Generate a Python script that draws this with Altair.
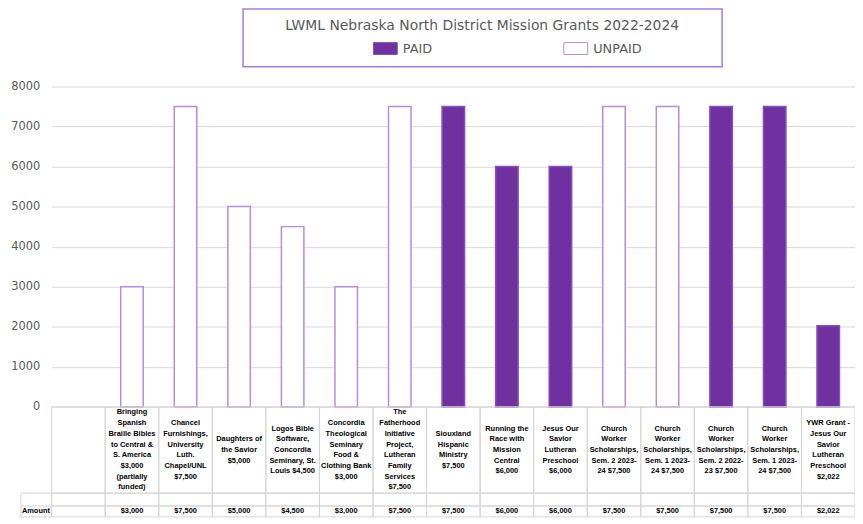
import altair as alt
import pandas as pd

labels = [
    "Bringing|Spanish|Braille Bibles|to Central &|S. America|$3,000|(partially|funded)",
    "Chancel|Furnishings,|University|Luth.|Chapel/UNL|$7,500",
    "Daughters of|the Savior|$5,000",
    "Logos Bible|Software,|Concordia|Seminary, St.|Louis $4,500",
    "Concordia|Theological|Seminary|Food &|Clothing Bank|$3,000",
    "The|Fatherhood|Initiative|Project,|Lutheran|Family|Services|$7,500",
    "Siouxland|Hispanic|Ministry|$7,500",
    "Running the|Race with|Mission|Central|$6,000",
    "Jesus Our|Savior|Lutheran|Preschool|$6,000",
    "Church|Worker|Scholarships,|Sem. 2 2023-|24 $7,500",
    "Church|Worker|Scholarships,|Sem. 1 2023-|24 $7,500",
    "Church|Worker|Scholarships,|Sem. 2 2022-|23 $7,500",
    "Church|Worker|Scholarships,|Sem. 1 2023-|24 $7,500",
    "YWR Grant -|Jesus Our|Savior|Lutheran|Preschool|$2,022",
]
amounts = [3000, 7500, 5000, 4500, 3000, 7500, 7500, 6000, 6000, 7500, 7500, 7500, 7500, 2022]
status = ["UNPAID", "UNPAID", "UNPAID", "UNPAID", "UNPAID", "UNPAID",
          "PAID", "PAID", "PAID", "UNPAID", "UNPAID", "PAID", "PAID", "PAID"]
amount_text = ["$3,000", "$7,500", "$5,000", "$4,500", "$3,000", "$7,500", "$7,500",
               "$6,000", "$6,000", "$7,500", "$7,500", "$7,500", "$7,500", "$2,022"]
y_ticks = [0, 1000, 2000, 3000, 4000, 5000, 6000, 7000, 8000]
title_text = "LWML Nebraska North District Mission Grants 2022-2024"

LH = 10.8
ids = [f"c{i}" for i in range(len(labels) + 1)]  # first column is blank
df = pd.DataFrame({"id": ids[1:], "label": labels, "amount": amounts,
                   "status": status, "amt": amount_text})
df["dy"] = [-(lab.count("|")) * LH / 2 for lab in labels]
grid = pd.DataFrame({"id": ids})

H = 323
ROW1 = 410
ROW2 = 423
ROW3 = 434
GRID = "#d4d4d4"
TXT_FONT = "Liberation Sans"

xenc = alt.X("id:N", scale=alt.Scale(domain=ids, paddingInner=0, paddingOuter=0), axis=None)
pad = "\u00a0" * 17 + "\u200b"

bars = alt.Chart(df).mark_bar(width=alt.RelativeBandSize(0.42), strokeWidth=1.5).encode(
    x=xenc,
    y=alt.Y("amount:Q", scale=alt.Scale(domain=[0, 8000], nice=False),
            axis=alt.Axis(values=y_ticks, format="d", grid=True, gridColor="#d9d9d9", domain=False,
                          ticks=False, labelPadding=12, labelColor="#595959",
                          labelFont="DejaVu Sans", labelFontSize=11.5, title=None)),
    fill=alt.Fill("status:N", scale=alt.Scale(domain=["PAID", "UNPAID"], range=["#7030A0", "#ffffff"]),
                  legend=alt.Legend(title=title_text, orient="none", legendX=193, legendY=-78,
                                    direction="horizontal", titleAnchor="middle", titleLimit=700,
                                    titleFont="DejaVu Sans", titleFontSize=14, titleFontWeight="normal",
                                    titleColor="#595959", titlePadding=3,
                                    labelFont="DejaVu Sans", labelFontSize=13, labelColor="#595959",
                                    labelOffset=5, labelLimit=300,
                                    labelExpr=f"datum.label == 'UNPAID' ? 'UNPAID{pad}' : datum.label",
                                    symbolType="M-1,-0.5H1V0.5H-1Z", symbolSize=576,
                                    symbolStrokeColor="#7f7f7f", symbolStrokeWidth=1,
                                    symbolOffset=121, columnPadding=11, padding=10,
                                    strokeColor="#a77bd6", fillColor="#ffffff", cornerRadius=0)),
    stroke=alt.Stroke("status:N", scale=alt.Scale(domain=["PAID", "UNPAID"], range=["#8450b8", "#b48de0"]),
                      legend=None),
)

row1 = alt.Chart(grid).mark_rect(fill="transparent", stroke=GRID, strokeWidth=1).encode(
    x=xenc, y=alt.value(H), y2=alt.value(ROW1))
row2 = alt.Chart(grid).mark_rect(fill="transparent", stroke=GRID, strokeWidth=1).encode(
    x=xenc, y=alt.value(ROW1), y2=alt.value(ROW2))
row3 = alt.Chart(grid).mark_rect(fill="transparent", stroke=GRID, strokeWidth=1).encode(
    x=xenc, y=alt.value(ROW2), y2=alt.value(ROW3))
hdr = alt.Chart(pd.DataFrame({"h": [""]})).mark_rect(
    fill="transparent", stroke=GRID, strokeWidth=1).encode(
    x=alt.value(-31), x2=alt.value(0),
    y=alt.value(ROW1), y2=alt.value(ROW3))
hdr_line = alt.Chart(pd.DataFrame({"h": [""]})).mark_rule(stroke=GRID, strokeWidth=1).encode(
    x=alt.value(-31), x2=alt.value(0), y=alt.value(ROW2))
hdr_text = alt.Chart(pd.DataFrame({"h": ["Amount"]})).mark_text(
    align="left", baseline="middle", font=TXT_FONT, fontWeight="bold", fontSize=7.5, color="#000000"
).encode(x=alt.value(-30), y=alt.value((ROW2 + ROW3) / 2), text="h:N")

cat_text = alt.Chart(df).mark_text(
    align="center", baseline="middle", lineBreak="|", lineHeight=LH,
    font=TXT_FONT, fontWeight="bold", fontSize=7.5, color="#000000"
).encode(x=xenc, y=alt.value((H + ROW1) / 2), yOffset=alt.YOffset("dy:Q", scale=None),
         text="label:N")

amt_text = alt.Chart(df).mark_text(
    align="center", baseline="middle", font=TXT_FONT, fontWeight="bold", fontSize=7.5, color="#000000"
).encode(x=xenc, y=alt.value((ROW2 + ROW3) / 2), text="amt:N")

chart = alt.layer(bars, row1, row2, row3, hdr, hdr_line, hdr_text, cat_text, amt_text).properties(
    width=810, height=H,
    autosize=alt.AutoSizeParams(type="none"),
    padding={"left": 44, "top": 77, "right": 0, "bottom": 113},
).configure_view(stroke=None).configure_legend(strokeWidth=1.5)

chart.save("out.html", embed_options={"renderer": "svg", "actions": False})
